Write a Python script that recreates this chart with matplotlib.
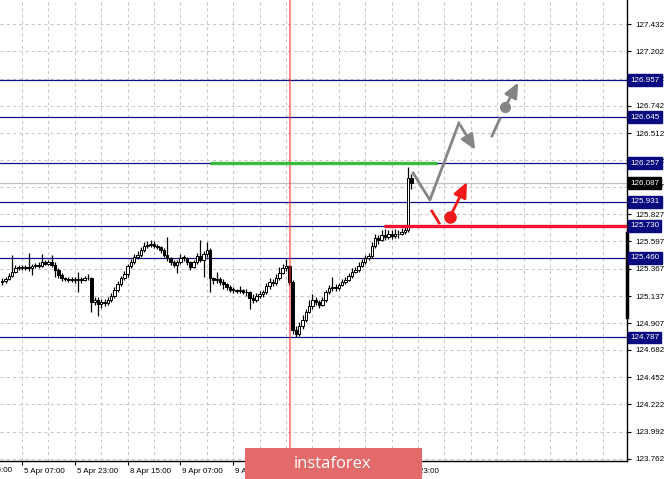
import matplotlib
matplotlib.use('Agg')
import matplotlib.pyplot as plt
import matplotlib.transforms as mtransforms
from matplotlib.patches import Rectangle

plt.rcParams['font.family'] = ['Liberation Sans', 'DejaVu Sans']

# hourly candles
closes = [125.264, 125.281, 125.306, 125.340, 125.373, 125.382, 125.373, 125.382, 125.373, 125.390,
          125.399, 125.390, 125.424, 125.407, 125.424, 125.399, 125.357, 125.314, 125.289, 125.281,
          125.272, 125.281, 125.272, 125.281, 125.272, 125.289, 125.289, 125.087, 125.103, 125.070,
          125.087, 125.078, 125.103, 125.137, 125.188, 125.238, 125.289, 125.323, 125.390, 125.424,
          125.466, 125.483, 125.525, 125.559, 125.567, 125.576, 125.559, 125.551, 125.525, 125.483,
          125.458, 125.424, 125.399, 125.424, 125.458, 125.458, 125.424, 125.382, 125.424, 125.475,
          125.441, 125.492, 125.525, 125.289, 125.272, 125.281, 125.255, 125.238, 125.213, 125.188,
          125.188, 125.179, 125.188, 125.171, 125.171, 125.120, 125.103, 125.137, 125.154, 125.171,
          125.222, 125.255, 125.247, 125.289, 125.331, 125.373, 125.390, 125.255, 124.850, 124.817,
          124.884, 124.935, 125.002, 125.053, 125.103, 125.087, 125.061, 125.103, 125.171, 125.205,
          125.213, 125.205, 125.230, 125.255, 125.272, 125.306, 125.340, 125.357, 125.390, 125.424,
          125.458, 125.475, 125.559, 125.627, 125.610, 125.652, 125.635, 125.660, 125.643, 125.660,
          125.660, 125.677, 125.694, 126.133, 126.087]
highs = [125.290, 125.300, 125.330, 125.483, 125.400, 125.400, 125.395, 125.400, 125.500, 125.410,
         125.415, 125.420, 125.492, 125.440, 125.440, 125.483, 125.420, 125.370, 125.330, 125.300,
         125.295, 125.295, 125.300, 125.340, 125.300, 125.310, 125.323, 125.300, 125.130, 125.130,
         125.110, 125.110, 125.130, 125.160, 125.210, 125.260, 125.310, 125.350, 125.410, 125.450,
         125.490, 125.520, 125.550, 125.590, 125.600, 125.610, 125.600, 125.580, 125.560, 125.540,
         125.635, 125.470, 125.440, 125.440, 125.490, 125.480, 125.470, 125.430, 125.440, 125.500,
         125.610, 125.520, 125.590, 125.540, 125.300, 125.340, 125.300, 125.280, 125.250, 125.230,
         125.210, 125.200, 125.220, 125.200, 125.200, 125.180, 125.150, 125.160, 125.180, 125.190,
         125.250, 125.290, 125.280, 125.320, 125.380, 125.410, 125.449, 125.400, 125.270, 124.880,
         124.920, 124.980, 125.030, 125.100, 125.150, 125.130, 125.100, 125.130, 125.190, 125.230,
         125.297, 125.240, 125.250, 125.280, 125.300, 125.330, 125.370, 125.380, 125.420, 125.450,
         125.480, 125.500, 125.590, 125.660, 125.650, 125.690, 125.700, 125.690, 125.690, 125.700,
         125.690, 125.710, 125.730, 126.225, 126.170]
lows = [125.230, 125.250, 125.270, 125.295, 125.330, 125.360, 125.355, 125.360, 125.350, 125.314,
        125.375, 125.370, 125.380, 125.395, 125.400, 125.380, 125.300, 125.290, 125.260, 125.265,
        125.255, 125.255, 125.250, 125.171, 125.250, 125.260, 125.270, 125.000, 125.060, 124.970,
        125.040, 125.050, 125.060, 125.090, 125.120, 125.170, 125.220, 125.270, 125.300, 125.370,
        125.410, 125.450, 125.470, 125.510, 125.540, 125.550, 125.540, 125.530, 125.500, 125.470,
        125.430, 125.400, 125.380, 125.331, 125.410, 125.430, 125.400, 125.360, 125.370, 125.410,
        125.420, 125.300, 125.470, 125.170, 125.240, 125.250, 125.230, 125.200, 125.190, 125.170,
        125.160, 125.160, 125.160, 125.150, 125.140, 125.030, 125.080, 125.090, 125.120, 125.130,
        125.150, 125.200, 125.220, 125.230, 125.270, 125.320, 125.350, 125.230, 124.820, 124.787,
        124.800, 124.860, 124.920, 124.990, 125.030, 125.060, 125.040, 125.050, 125.090, 125.150,
        125.180, 125.180, 125.190, 125.220, 125.240, 125.260, 125.290, 125.330, 125.340, 125.380,
        125.410, 125.440, 125.460, 125.540, 125.580, 125.600, 125.610, 125.620, 125.620, 125.630,
        125.630, 125.650, 125.660, 125.680, 126.040]
first_open = 125.255

price_ticks = [127.432, 127.202, 126.972, 126.742, 126.512, 126.282, 126.057, 125.827, 125.597,
               125.367, 125.137, 124.907, 124.682, 124.452, 124.222, 123.992, 123.762]
levels = [126.957, 126.645, 126.257, 125.931, 125.730, 125.460, 124.787]
current_price = 126.087
date_ticks = [-10, 6, 22, 38, 54, 70, 86, 102, 118]
date_labels = ['4 Apr 15:00', '5 Apr 07:00', '5 Apr 23:00', '8 Apr 15:00', '9 Apr 07:00',
               '9 Apr 23:00', '10 Apr 15:00', '11 Apr 07:00', '11 Apr 23:00']

# forecast drawing (bar index, price)
gray_path_x = [124.5, 129.6, 138.4]
gray_path_y = [126.175, 125.947, 126.597]
gray_arrow1 = [(138.4, 126.597), (143.8, 126.35)]
gray_dash = [(148.4, 126.487), (150.8, 126.631)]
gray_dot = (152.4, 126.732)
gray_arrow2 = [(152.4, 126.732), (156.8, 126.96)]
red_dash = [(130.2, 125.854), (132.4, 125.753)]
red_dot = (135.7, 125.804)
red_arrow = [(135.7, 125.804), (141.2, 126.12)]
green_span = (63.0, 131.8, 126.257)
red_span = (115.7, 125.730)
vline_bar = 87.2

W, H = 665, 479
fig = plt.figure(figsize=(W / 100, H / 100), dpi=100)
ax = fig.add_axes([0, 18 / H, 627 / W, 461 / H])
x0, x1 = -0.667, 189.33
ax.set_xlim(x0, x1)
ax.set_ylim(123.745, 127.6345)

grid_col = '#c8c8c8'
for v in range(6, 190, 8):
    ax.axvline(v, color=grid_col, lw=0.75, ls=(0, (3, 3)), zorder=0)
for p in price_ticks:
    ax.axhline(p, color=grid_col, lw=0.75, ls=(0, (3, 3)), zorder=0)

ax.axhline(current_price, color='#c0c0c0', lw=0.9, zorder=1)
for lv in levels:
    ax.axhline(lv, color='#10108a', lw=0.9, zorder=1)

# candles
opens = [first_open] + closes[:-1]
for i in range(len(closes)):
    o, c = opens[i], closes[i]
    ax.vlines(i, lows[i], highs[i], color='black', lw=0.9, zorder=3)
    lo, hi = min(o, c), max(o, c)
    fc = 'white' if c >= o else 'black'
    ax.add_patch(Rectangle((i - 0.38, lo), 0.76, max(hi - lo, 0.004), fc=fc, ec='black', lw=0.7, zorder=4))

ax.axvline(vline_bar, color='#ff3030', alpha=0.55, lw=1.5, zorder=5)

ax.plot([green_span[0], green_span[1]], [green_span[2]] * 2, color='#3dbb3d', lw=2.4,
        solid_capstyle='butt', zorder=6)
ax.plot([red_span[0], x1], [red_span[1]] * 2, color='#ee1530', lw=2.4, solid_capstyle='butt', zorder=6)

gray = '#858585'
red = '#f01a1a'
head = '-|>,head_width=0.4,head_length=0.9'
ax.plot(gray_path_x, gray_path_y, color=gray, lw=2, zorder=7)
ax.annotate('', xy=gray_arrow1[1], xytext=gray_arrow1[0],
            arrowprops=dict(arrowstyle=head, color=gray, lw=2), zorder=7)
ax.plot([p[0] for p in gray_dash], [p[1] for p in gray_dash], color=gray, lw=2, zorder=7)
ax.plot(*gray_dot, 'o', ms=7, color=gray, zorder=7)
ax.annotate('', xy=gray_arrow2[1], xytext=gray_arrow2[0],
            arrowprops=dict(arrowstyle=head, color=gray, lw=2), zorder=7)
ax.plot([p[0] for p in red_dash], [p[1] for p in red_dash], color=red, lw=2, zorder=7)
ax.plot(*red_dot, 'o', ms=8, color=red, zorder=7)
ax.annotate('', xy=red_arrow[1], xytext=red_arrow[0],
            arrowprops=dict(arrowstyle=head, color=red, lw=2), zorder=7)

# axes
for s in ['left', 'top']:
    ax.spines[s].set_visible(False)
for s in ['right', 'bottom']:
    ax.spines[s].set_color('black')
    ax.spines[s].set_linewidth(1)
ax.yaxis.tick_right()
ax.set_yticks(price_ticks)
ax.set_yticklabels([f'{p:.3f}' for p in price_ticks])
ax.tick_params(axis='y', length=3, width=0.8, pad=3, labelsize=5.8)
ax.set_xticks(date_ticks[1:])
ax.set_xticklabels(date_labels[1:], ha='left')
ax.tick_params(axis='x', length=3, width=0.8, pad=2, labelsize=5.8)
offset = mtransforms.ScaledTranslation(2 / 100, 0, fig.dpi_scale_trans)
for lbl in ax.get_xticklabels():
    lbl.set_transform(lbl.get_transform() + offset)
fig.text((2.2 + 3.3 * date_ticks[0] + 2) / W, 1 - 470 / H, date_labels[0], fontsize=5.8, va='center')

trans = mtransforms.blended_transform_factory(ax.transAxes, ax.transData)
ax.plot([1, 1], [124.96, 125.669], transform=trans, color='black', lw=2.5, clip_on=False, zorder=8)
for lv in levels:
    ax.text(1.0 + 3 / 627, lv, f'{lv:.3f}', transform=trans, fontsize=5.8, color='white', va='center',
            ha='left', clip_on=False, zorder=9,
            bbox=dict(boxstyle='square,pad=0.3', fc='#0a0a80', ec='#0a0a80'))
ax.text(1.0 + 3 / 627, current_price, f'{current_price:.3f}', transform=trans, fontsize=5.8, color='white',
        va='center', ha='left', clip_on=False, zorder=9,
        bbox=dict(boxstyle='square,pad=0.3', fc='black', ec='black'))

# watermark
fig.patches.append(Rectangle((245 / W, 0), 177 / W, 31 / H, transform=fig.transFigure,
                             fc='#e26a6a', ec='none', zorder=10))
fig.text(333 / W, 15 / H, 'instaforex', color='white', fontsize=12, ha='center', va='center',
         family='Open Sans', zorder=11)

fig.savefig('out.png', dpi=100)
